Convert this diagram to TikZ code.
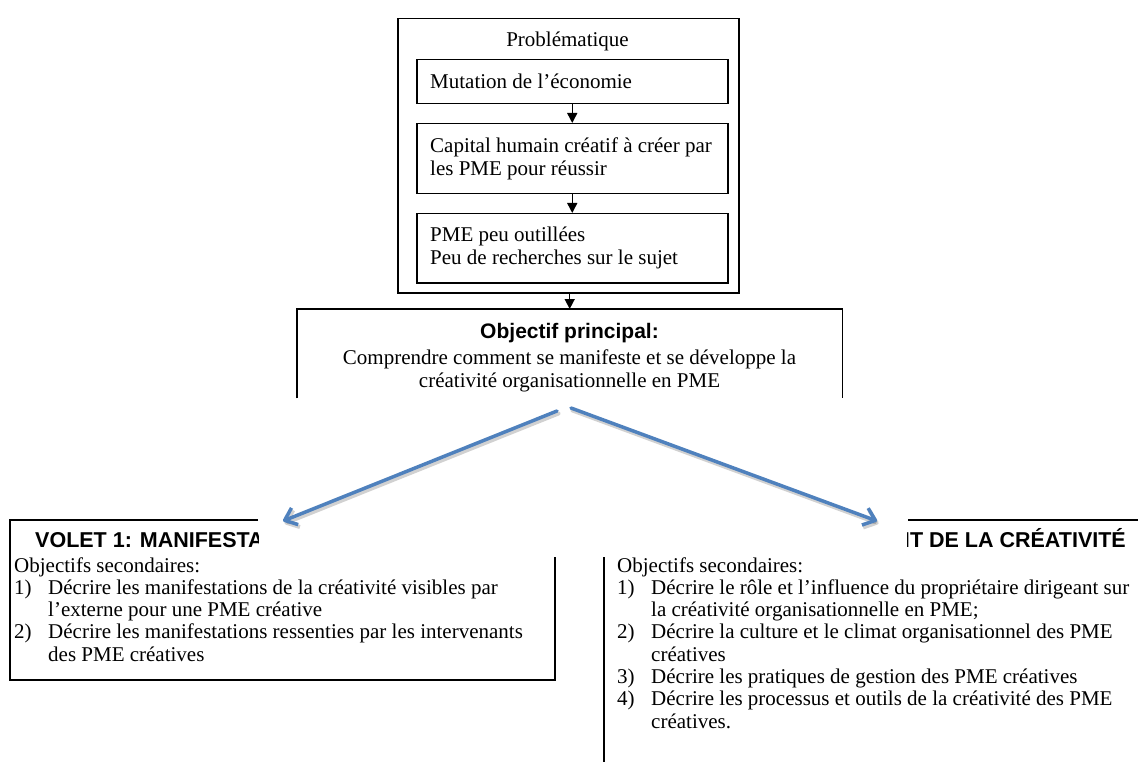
\documentclass[tikz,border=0pt]{standalone}
\usepackage{fontspec}
\setmainfont{Liberation Serif}
\newfontfamily\headsans{Liberation Sans}
\usetikzlibrary{arrows.meta}
\definecolor{linkblue}{HTML}{4F81BD}
\newcommand{\txtsize}{\fontsize{21}{23}\selectfont}
\newcommand{\listsize}{\fontsize{21}{22.3}\selectfont}
\newcommand{\headsize}{\headsans\bfseries\fontsize{21}{24}\selectfont}
\newcommand{\partsize}{\headsans\bfseries\fontsize{21.5}{24}\selectfont}

\begin{document}
\begin{tikzpicture}[x=1pt,y=-1pt,
  frame/.style={draw=black,line width=1.5pt},
  stepbox/.style={frame,anchor=north west,minimum width=311pt,inner sep=0pt},
  steptext/.style={anchor=west,inner sep=0pt,align=left,font=\txtsize},
  flow/.style={line width=1.5pt,-{Triangle[length=10pt,width=10pt]}},
  branch/.style={draw=linkblue,line width=3.5pt,line cap=round,
    -{Straight Barb[length=11pt,width=18pt,line join=round]}},
  branchshadow/.style={draw=black,opacity=0.18,line width=4pt,line cap=round,
    -{Straight Barb[length=11pt,width=18pt,line join=round]}},
  plain/.style={inner sep=0pt,font=\txtsize},
  heading/.style={inner sep=0pt,font=\headsize},
  parttitle/.style={inner sep=0pt,font=\partsize}]
\useasboundingbox (0,0) rectangle (1138,762);

% Problem statement block
\node[frame,anchor=north west,minimum width=341pt,minimum height=274pt,inner sep=0pt] (prob) at (397,18) {};
\node[plain,anchor=base] (probtitle) at (567.5,47) {Problématique};
\node[stepbox,minimum height=44pt] (m1) at (416,59) {};
\node[stepbox,minimum height=70pt] (m2) at (416,123) {};
\node[stepbox,minimum height=69pt] (m3) at (416,213) {};
\node[steptext] (m1text) at ([xshift=14pt]m1.west) {Mutation de l’économie};
\node[steptext] (m2text) at ([xshift=14pt]m2.west) {Capital humain créatif à créer par\\les PME pour réussir};
\node[steptext] (m3text) at ([xshift=14pt]m3.west) {PME peu outillées\\Peu de recherches sur le sujet};
\draw[flow] (m1.south) -- (m2.north);
\draw[flow] (m2.south) -- (m3.north);

% Main objective (open at the bottom)
\node[anchor=north west,minimum width=545pt,minimum height=89pt,inner sep=0pt] (obj) at (297,309) {};
\draw[frame] (obj.south west) -- (obj.north west) -- (obj.north east) -- (obj.south east);
\draw[flow] (prob.south -| obj.north) -- (obj.north);
\node[heading,anchor=base] (objhead) at (569.5,338) {Objectif principal:};
\node[plain,anchor=base,align=center] (objtext) at (569.5,387)
  {Comprendre comment se manifeste et se développe la\\créativité organisationnelle en PME};

% Branches towards the two parts
\coordinate (b1s) at (557,411);
\coordinate (b1e) at (283,521);
\coordinate (b2s) at (571,408);
\coordinate (b2e) at (877,521);
\draw[branchshadow] ([shift={(1.5,2.5)}]b1s) -- ([shift={(1.5,2.5)}]b1e);
\draw[branchshadow] ([shift={(1.5,2.5)}]b2s) -- ([shift={(1.5,2.5)}]b2e);
\draw[branch] (b1s) -- (b1e);
\draw[branch] (b2s) -- (b2e);

% Part 1
\draw[frame] (258,520) -- (10,520) -- (10,680) -- (555,680) -- (555,557);
\begin{scope}
  \clip (0,500) rectangle (258,560);
  \node[parttitle,anchor=base west] (v1title) at (35,547) {VOLET 1: MANIFESTA};
\end{scope}
\node[plain,font=\listsize,anchor=base west,align=left] (v1list) at (14,661.2)
  {Objectifs secondaires:\\
   \makebox[34pt][l]{1)}Décrire les manifestations de la créativité visibles par\\
   \hspace*{34pt}l’externe pour une PME créative\\
   \makebox[34pt][l]{2)}Décrire les manifestations ressenties par les intervenants\\
   \hspace*{34pt}des PME créatives};

% Part 2
\draw[frame] (1138,520) -- (907.5,520);
\draw[frame] (604,557) -- (604,762);
\begin{scope}
  \clip (907.5,500) rectangle (1138,560);
  \node[parttitle,anchor=base east] (v2title) at (1126,547) {NT DE LA CRÉATIVITÉ};
\end{scope}
\node[plain,font=\listsize,anchor=base west,align=left] (v2list) at (617,728.1)
  {Objectifs secondaires:\\
   \makebox[34pt][l]{1)}Décrire le rôle et l’influence du propriétaire dirigeant sur\\
   \hspace*{34pt}la créativité organisationnelle en PME;\\
   \makebox[34pt][l]{2)}Décrire la culture et le climat organisationnel des PME\\
   \hspace*{34pt}créatives\\
   \makebox[34pt][l]{3)}Décrire les pratiques de gestion des PME créatives\\
   \makebox[34pt][l]{4)}Décrire les processus et outils de la créativité des PME\\
   \hspace*{34pt}créatives.};
\end{tikzpicture}
\end{document}
